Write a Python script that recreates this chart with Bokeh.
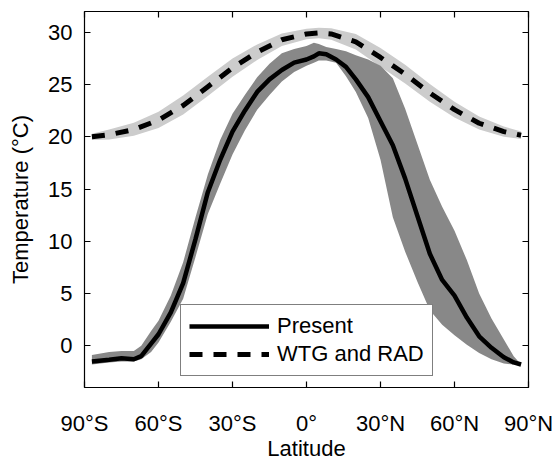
from bokeh.plotting import figure
from bokeh.models import Range1d, LinearAxis, FixedTicker, Legend, LegendItem
from bokeh.embed import file_html
from bokeh.resources import INLINE

# ---- data ----
wtg_lat = [-87, -80, -70, -60, -50, -40, -30, -20, -10, 0, 5, 10, 20, 30, 40, 50, 60, 70, 80, 87]
wtg_temp = [20.0, 20.2, 20.7, 21.6, 23.0, 24.8, 26.6, 28.1, 29.3, 29.85, 29.95, 29.85, 29.1, 27.6, 26.0, 24.2, 22.6, 21.3, 20.5, 20.15]
wtg_lower = [19.7, 19.75, 20.1, 20.85, 22.15, 23.9, 25.75, 27.35, 28.7, 29.35, 29.45, 29.3, 28.35, 26.7, 25.1, 23.35, 21.85, 20.7, 20.0, 19.8]
wtg_upper = [20.3, 20.7, 21.35, 22.4, 23.95, 25.75, 27.5, 28.85, 29.9, 30.35, 30.45, 30.4, 29.85, 28.5, 26.9, 25.05, 23.35, 21.95, 21.0, 20.5]

pres_lat = [-87, -80, -75, -70, -67, -63, -60, -55, -50, -45, -40, -35, -30, -25, -20, -15, -10, -5, 0, 3, 5, 8, 12, 16, 20, 25, 30, 35, 40, 45, 50, 55, 60, 65, 70, 75, 80, 84, 87]
pres_temp = [-1.5, -1.35, -1.2, -1.3, -1.0, 0.2, 1.1, 3.2, 6.0, 10.2, 14.7, 17.8, 20.5, 22.5, 24.3, 25.5, 26.4, 27.1, 27.4, 27.7, 28.0, 27.9, 27.4, 26.7, 25.5, 23.8, 21.5, 19.2, 16.0, 12.4, 8.8, 6.3, 4.8, 2.7, 0.9, -0.2, -1.1, -1.6, -1.8]
pres_lower = [-1.8, -1.6, -1.5, -1.5, -1.3, -0.6, 0.3, 2.3, 4.5, 8.5, 12.6, 15.5, 18.3, 20.6, 22.6, 24.0, 25.3, 26.2, 26.8, 27.1, 27.3, 27.3, 27.1, 25.8, 24.3, 21.8, 17.8, 12.3, 9.0, 6.1, 3.4, 2.0, 1.0, 0.1, -0.7, -1.3, -1.7, -1.8, -1.8]
pres_upper = [-0.9, -0.6, -0.5, -0.5, 0.0, 1.4, 2.4, 4.8, 8.0, 12.3, 16.4, 19.7, 22.2, 24.0, 25.7, 27.0, 28.0, 28.4, 28.7, 29.0, 28.9, 28.6, 28.4, 28.2, 27.8, 27.4, 26.8, 25.6, 22.7, 19.3, 15.9, 13.3, 11.0, 8.2, 5.0, 2.6, 0.6, -1.0, -1.8]

x_ticks = [-90, -60, -30, 0, 30, 60, 90]
x_tick_labels = ["90°S", "60°S", "30°S", "0°", "30°N", "60°N", "90°N"]
y_ticks = [0, 5, 10, 15, 20, 25, 30]

FONT = "Liberation Sans"
FS = "22px"

p = figure(width=555, height=463, output_backend="svg", toolbar_location=None,
           x_range=Range1d(-90, 90), y_range=Range1d(-4, 32),
           min_border_left=84, min_border_right=27, min_border_top=11, min_border_bottom=75,
           x_axis_label="Latitude", y_axis_label="Temperature (°C)")
p.grid.visible = False
p.outline_line_color = "black"
p.outline_line_width = 1.2
p.background_fill_color = "white"
p.border_fill_color = "white"

# bands
p.varea(x=wtg_lat, y1=wtg_lower, y2=wtg_upper, fill_color="#cccccc")
p.varea(x=pres_lat, y1=pres_lower, y2=pres_upper, fill_color="#888888")

# lines
r_wtg = p.line(wtg_lat, wtg_temp, line_color="black", line_width=5, line_dash="13 11")
r_pres = p.line(pres_lat, pres_temp, line_color="black", line_width=4.5)

def style_axis(ax, ticks, labels=True):
    ax.ticker = FixedTicker(ticks=ticks)
    ax.minor_tick_line_color = None
    ax.major_tick_in = 6
    ax.major_tick_out = 0
    ax.axis_line_color = None
    ax.major_tick_line_color = "black"
    ax.major_tick_line_width = 1.2
    ax.major_label_text_font = FONT
    ax.major_label_text_color = "black"
    if labels:
        ax.major_label_text_font_size = FS
    else:
        ax.major_label_overrides = {t: "" for t in ticks}
        ax.major_label_text_font_size = "1px"
        ax.major_label_standoff = 0

# bottom
xb = p.xaxis[0]
style_axis(xb, x_ticks)
xb.major_label_overrides = {t: s for t, s in zip(x_ticks, x_tick_labels)}
xb.major_label_standoff = 23
xb.axis_label_standoff = -3
xb.axis_label_text_font = FONT
xb.axis_label_text_font_size = FS
xb.axis_label_text_font_style = "normal"
xb.axis_label_text_color = "black"

# left
yl = p.yaxis[0]
style_axis(yl, y_ticks)
yl.major_label_standoff = 12
yl.axis_label_standoff = 12
yl.axis_label_text_font = FONT
yl.axis_label_text_font_size = FS
yl.axis_label_text_font_style = "normal"
yl.axis_label_text_color = "black"

# top and right (ticks only)
xt = LinearAxis()
style_axis(xt, x_ticks, labels=False)
p.add_layout(xt, "above")
yr = LinearAxis()
style_axis(yr, y_ticks, labels=False)
p.add_layout(yr, "right")

legend = Legend(items=[LegendItem(label="Present", renderers=[r_pres]),
                       LegendItem(label="WTG and RAD", renderers=[r_wtg])],
                location=(96, 11))
legend.label_text_font = FONT
legend.label_text_font_size = FS
legend.label_text_color = "black"
legend.glyph_width = 80
legend.glyph_height = 24
legend.label_height = 24
legend.label_standoff = 8
legend.padding = 8
legend.spacing = 2
legend.margin = 0
legend.border_line_color = "black"
legend.border_line_width = 1.2
legend.background_fill_alpha = 1.0
p.add_layout(legend, "center")

open("out.html", "w").write(file_html(p, INLINE))
